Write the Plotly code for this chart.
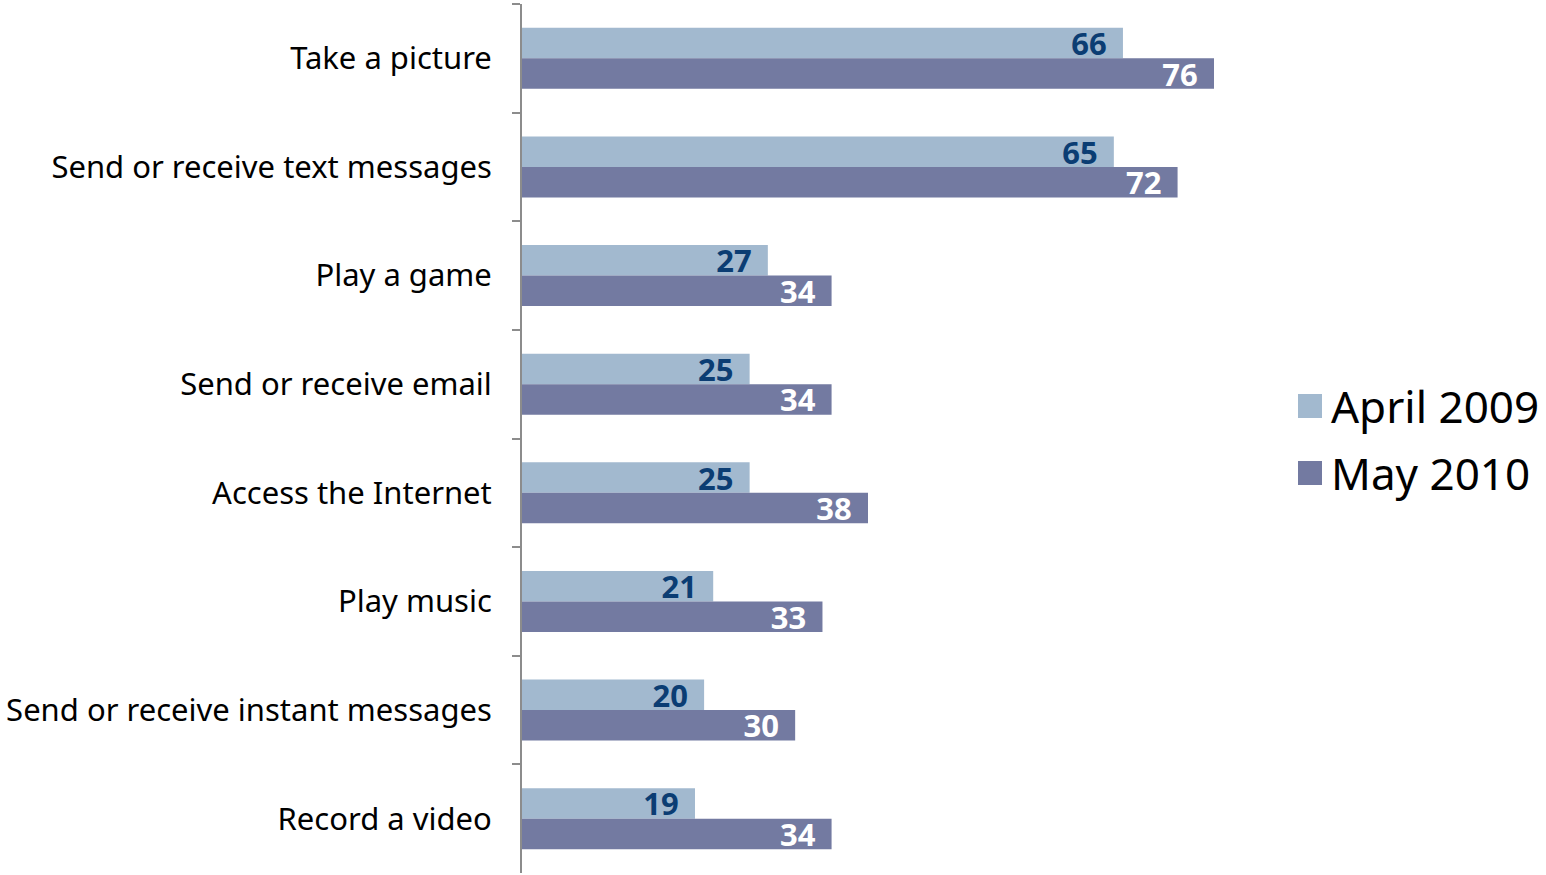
import plotly.graph_objects as go

categories = ["Take a picture", "Send or receive text messages", "Play a game",
              "Send or receive email", "Access the Internet", "Play music",
              "Send or receive instant messages", "Record a video"]
april_2009 = [66, 65, 27, 25, 25, 21, 20, 19]
may_2010 = [76, 72, 34, 34, 38, 33, 30, 34]
series_names = ["April 2009", "May 2010"]

LIGHT = "#A2B9CF"
DARK = "#737AA1"
FONT = "Noto Sans"

W, H = 1546, 875
L, R, T, B = 522, 1292, 4, 873
PX_PER_UNIT = 692 / 76
PAD = "\u00a0\u2009"

fig = go.Figure()
fig.add_trace(go.Bar(
    y=categories, x=april_2009, orientation="h", name=series_names[0],
    marker=dict(color=LIGHT, line=dict(width=0)),
    text=[f"{v}{PAD}" for v in april_2009], textposition="inside", insidetextanchor="end",
    textangle=0, constraintext="none",
    textfont=dict(family=FONT, size=31, color="#0B3D73", weight="bold"),
    cliponaxis=False, showlegend=False,
))
fig.add_trace(go.Bar(
    y=categories, x=may_2010, orientation="h", name=series_names[1],
    marker=dict(color=DARK, line=dict(width=0)),
    text=[f"{v}{PAD}" for v in may_2010], textposition="inside", insidetextanchor="end",
    textangle=0, constraintext="none",
    textfont=dict(family=FONT, size=31, color="white", weight="bold"),
    cliponaxis=False, showlegend=False,
))

def px_x(p):
    return (p - L) / (R - L)

def px_y(p):
    return (B - p) / (B - T)

# custom legend (large squares)
legend_rows = [(series_names[0], LIGHT, 406), (series_names[1], DARK, 473)]
for name, col, cy in legend_rows:
    fig.add_shape(type="rect", xref="paper", yref="paper",
                  x0=px_x(1298), x1=px_x(1322), y0=px_y(cy + 12), y1=px_y(cy - 12),
                  fillcolor=col, line=dict(width=0))
    fig.add_annotation(xref="paper", yref="paper", x=px_x(1329), y=px_y(cy),
                       xanchor="left", yanchor="middle", text=name, showarrow=False,
                       font=dict(family=FONT, size=44, color="black"))

fig.update_layout(
    width=W, height=H,
    margin=dict(l=L, r=W - R, t=T, b=H - B, pad=0),
    barmode="group", bargap=0.438, bargroupgap=0,
    plot_bgcolor="white", paper_bgcolor="white",
    uniformtext=dict(mode=False),
    xaxis=dict(range=[0, (R - L) / PX_PER_UNIT], visible=False, showgrid=False, zeroline=False),
    yaxis=dict(autorange="reversed", tickson="boundaries", ticks="outside", ticklen=8,
               tickcolor="#8C8C8C", tickwidth=2, showline=True, linecolor="#8C8C8C", linewidth=2,
               showgrid=False, ticklabelstandoff=22,
               tickfont=dict(family=FONT, size=31, color="black")),
)

fig.write_html("out.html")
